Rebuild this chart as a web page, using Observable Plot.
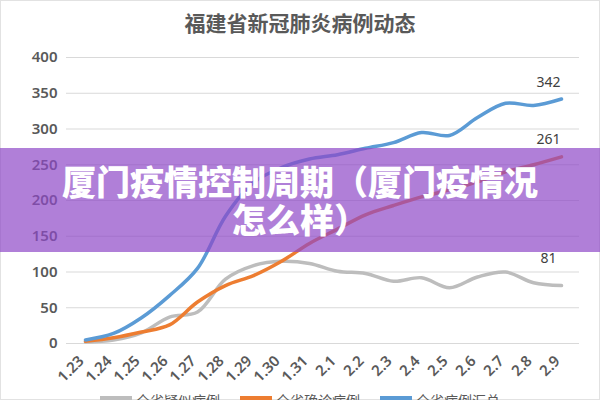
<!DOCTYPE html>
<html>
<head>
<meta charset="utf-8">
<script src="https://cdn.jsdelivr.net/npm/d3@7"></script>
<script src="https://cdn.jsdelivr.net/npm/@observablehq/plot@0.6"></script>
<style>
  html, body { margin: 0; padding: 0; background: #fff; }
  #wrap { position: relative; width: 600px; height: 400px; overflow: hidden; background: #fff;
          box-shadow: inset 0 0 0 1px #e2e2e2; font-family: "Noto Sans", "Noto Sans CJK SC", sans-serif; }
  #title { position: absolute; top: 0; left: 0; width: 600px; height: 45px; line-height: 45px; text-align: center;
           font-family: "Noto Sans CJK SC", sans-serif; font-weight: 700; font-size: 21px; color: #595959; }
  #chart { position: absolute; top: 45px; left: 0; }
  #legend { position: absolute; top: 389px; left: 0; width: 600px; height: 22px; display: flex; justify-content: center;
            align-items: center; gap: 20px; font-family: "Noto Sans CJK SC", sans-serif; font-size: 14px; color: #595959; }
  .item { display: flex; align-items: center; gap: 4px; }
  .sw { width: 32px; height: 4px; margin-top: -4px; }
  #band { position: absolute; top: 148px; left: 0; width: 600px; height: 104px; background: rgba(142,72,199,0.7);
          display: flex; align-items: center; justify-content: center; text-align: center;
          color: #fff; font-family: "Noto Sans CJK SC", sans-serif; font-weight: 900; font-size: 34px; line-height: 38px; }
</style>
</head>
<body>
<div id="wrap">
  <div id="title">福建省新冠肺炎病例动态</div>
  <div id="chart"></div>
  <div id="legend"></div>
  <div id="band"><div>厦门疫情控制周期（厦门疫情况<br>怎么样）</div></div>
</div>
<script>
const dates = ["1.23","1.24","1.25","1.26","1.27","1.28","1.29","1.30","1.31","2.1","2.2","2.3","2.4","2.5","2.6","2.7","2.8","2.9"];
const suspected = [2, 5, 15, 37, 44, 90, 109, 115, 112, 101, 98, 87, 92, 78, 93, 100, 85, 81];
const confirmed = [3, 8, 16, 26, 58, 81, 95, 115, 140, 160, 180, 193, 205, 215, 226, 240, 250, 261];
const total = [5, 14, 36, 67, 105, 178, 225, 246, 258, 264, 273, 281, 295, 291, 316, 336, 333, 342];
const seriesNames = ["全省疑似病例", "全省确诊病例", "全省病例汇总"];
const seriesColors = ["#bdbdbd", "#ed7d31", "#5b9bd5"];
const yTicks = [0, 50, 100, 150, 200, 250, 300, 350, 400];

const seriesValues = [suspected, confirmed, total];
const rows = (vals, name) => vals.map((v, i) => ({date: dates[i], value: v, series: name}));
const labelDy = {"全省疑似病例": -27, "全省确诊病例": -17, "全省病例汇总": -16};
const lastPoints = seriesValues.map((vals, k) => ({date: dates[dates.length - 1], value: vals[vals.length - 1], series: seriesNames[k]}));

const marks = [
  Plot.gridY(yTicks, {stroke: "#d9d9d9", strokeOpacity: 1, strokeWidth: 1}),
  Plot.axisY(yTicks, {tickSize: 0, tickPadding: 9, fontSize: 15, fontWeight: 600, fill: "#595959", label: null}),
  Plot.axisX({tickSize: 0, tickRotate: -45, tickPadding: 15, dx: -4, fontSize: 15, fontWeight: 600, fill: "#595959", label: null})
];
seriesValues.forEach((vals, k) => {
  marks.push(Plot.line(rows(vals, seriesNames[k]), {x: "date", y: "value", stroke: seriesColors[k], strokeWidth: 3.5, curve: "catmull-rom"}));
});
lastPoints.forEach(p => {
  marks.push(Plot.text([p], {x: "date", y: "value", text: d => String(d.value), dx: -13, dy: labelDy[p.series], fontSize: 14, fill: "#404040"}));
});

const chart = Plot.plot({
  width: 600,
  height: 345,
  marginTop: 12,
  marginBottom: 47,
  marginLeft: 66,
  marginRight: 21,
  x: {type: "point", domain: dates, padding: 0.4, label: null},
  y: {domain: [0, 400], label: null},
  style: {fontFamily: "'Noto Sans', sans-serif", background: "transparent", overflow: "visible"},
  marks
});
document.getElementById("chart").appendChild(chart);

const legend = document.getElementById("legend");
seriesNames.forEach((name, k) => {
  const item = document.createElement("div");
  item.className = "item";
  const sw = document.createElement("div");
  sw.className = "sw";
  sw.style.background = seriesColors[k];
  const t = document.createElement("span");
  t.textContent = name;
  item.appendChild(sw);
  item.appendChild(t);
  legend.appendChild(item);
});
</script>
</body>
</html>
